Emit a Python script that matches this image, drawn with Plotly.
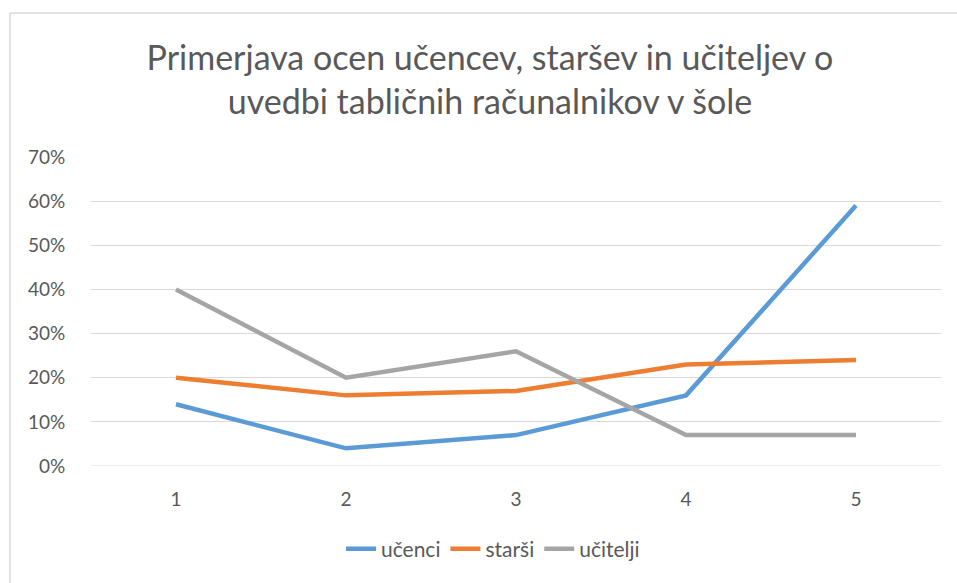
import plotly.graph_objects as go

# Ocene 1-5 in deleži odgovorov po skupinah
ocene = [1, 2, 3, 4, 5]
ucenci = [0.14, 0.04, 0.07, 0.16, 0.59]
starsi = [0.20, 0.16, 0.17, 0.23, 0.24]
ucitelji = [0.40, 0.20, 0.26, 0.07, 0.07]

y_ticks = [0, 0.1, 0.2, 0.3, 0.4, 0.5, 0.6, 0.7]
y_tick_labels = ["0%", "10%", "20%", "30%", "40%", "50%", "60%", "70%"]

series = [
    ("učenci", ucenci, "#5B9BD5"),
    ("starši", starsi, "#ED7D31"),
    ("učitelji", ucitelji, "#A5A5A5"),
]

FONT = "Lato"
GREY_TEXT = "#595959"

fig = go.Figure()
for name, vals, color in series:
    fig.add_trace(go.Scatter(
        x=ocene, y=vals, name=name, mode="lines",
        line=dict(color=color, width=4.5),
    ))

fig.update_layout(
    width=957, height=583,
    margin=dict(l=91, r=16, t=157, b=117),
    paper_bgcolor="white", plot_bgcolor="white",
    font=dict(family=FONT, color=GREY_TEXT, size=18),
    title=dict(
        text="Primerjava ocen učencev, staršev in učiteljev o<br>uvedbi tabličnih računalnikov v šole",
        x=490 / 957, xanchor="center", xref="container",
        y=1 - 70 / 583, yanchor="middle", yref="container",
        font=dict(family=FONT, size=34, color=GREY_TEXT),
    ),
    xaxis=dict(
        range=[0.5, 5.5], tickmode="array", tickvals=ocene,
        ticktext=[str(o) for o in ocene],
        showgrid=False, zeroline=False, showline=False,
        ticks="outside", ticklen=16, tickcolor="rgba(0,0,0,0)",
        tickfont=dict(size=19, color=GREY_TEXT),
    ),
    yaxis=dict(
        range=[0, 0.7], tickmode="array", tickvals=y_ticks,
        ticktext=y_tick_labels,
        showgrid=True, gridcolor="#D9D9D9", gridwidth=1,
        zeroline=False, showline=False,
        ticks="outside", ticklen=21, tickcolor="rgba(0,0,0,0)",
        tickfont=dict(size=19, color=GREY_TEXT),
    ),
    legend=dict(
        orientation="h", x=493 / 957, xanchor="center", xref="container",
        y=1 - 549 / 583, yanchor="middle", yref="container",
        font=dict(size=21, color=GREY_TEXT),
        itemwidth=30, tracegroupgap=0,
    ),
    showlegend=True,
)

# baseline gridline at 0%
fig.add_shape(type="line", xref="paper", yref="y", x0=0, x1=1, y0=0, y1=0,
              line=dict(color="#D9D9D9", width=1), layer="below")

# chart frame (left and top edges)
fig.add_shape(type="line", xref="paper", yref="paper",
              x0=-81 / 850, x1=1.03, y0=(466 - 13) / 309, y1=(466 - 13) / 309,
              line=dict(color="#D9D9D9", width=1.5))
fig.add_shape(type="line", xref="paper", yref="paper",
              x0=-81 / 850, x1=-81 / 850, y0=(466 - 13) / 309, y1=-0.45,
              line=dict(color="#D9D9D9", width=1.5))

fig.write_html("out.html")
